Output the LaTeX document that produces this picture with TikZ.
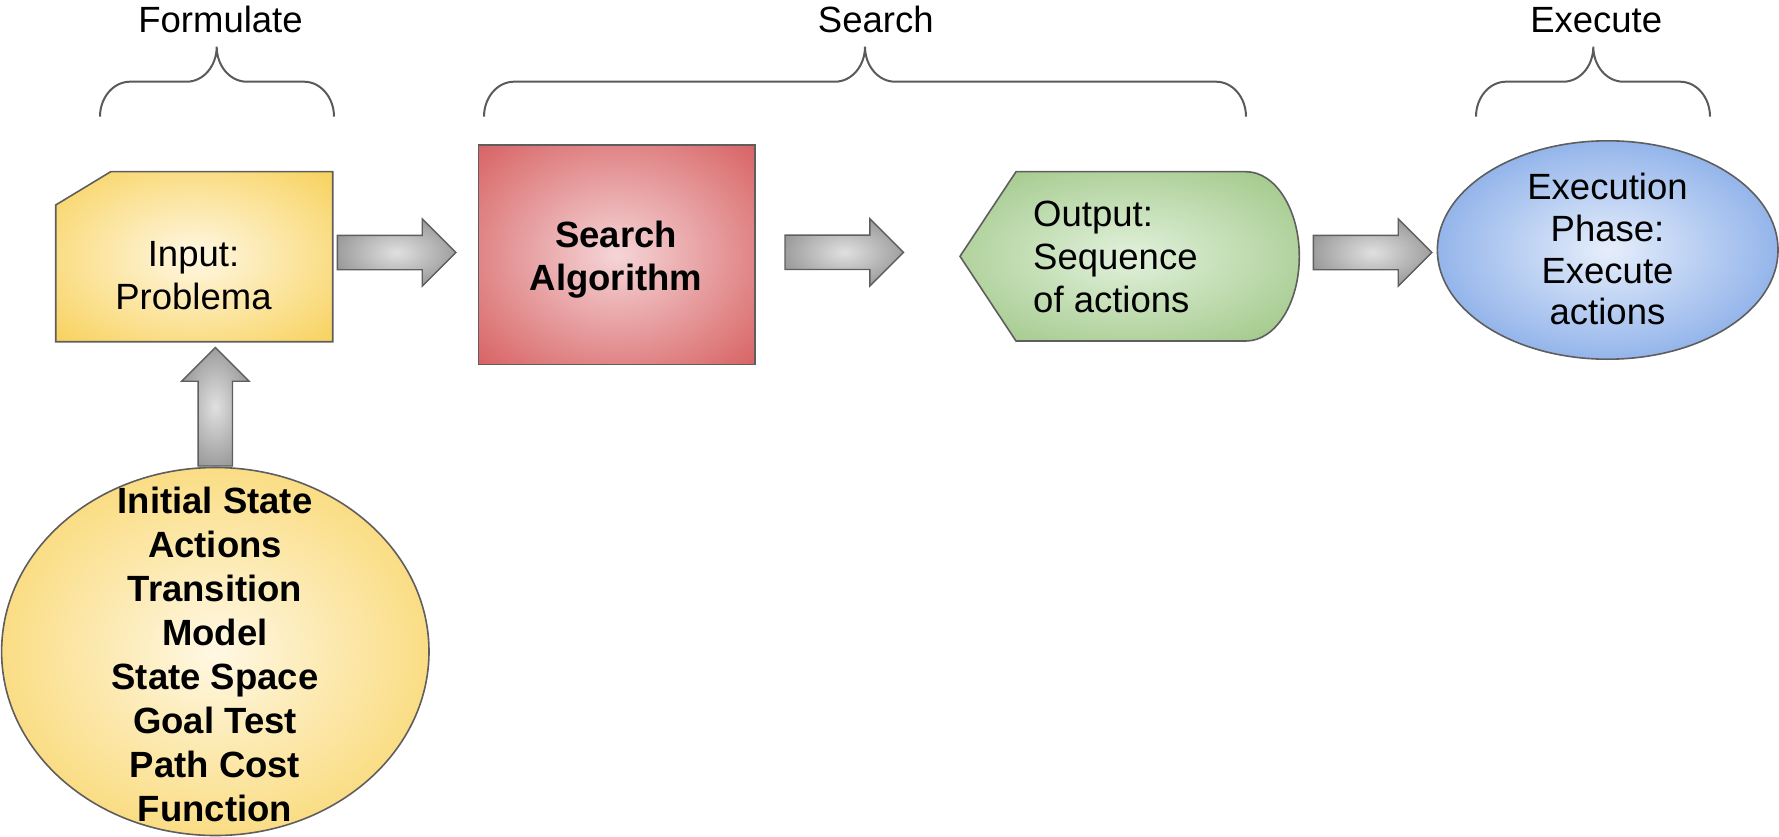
\documentclass[tikz,border=0pt]{standalone}
\usepackage{fontspec}
\setmainfont{Liberation Sans}
\usetikzlibrary{shapes.geometric,shapes.arrows}

\definecolor{edgegray}{HTML}{5E5E5E}
\definecolor{bracegray}{HTML}{5A5A5A}
\definecolor{yellowdark}{HTML}{F8D25E}
\definecolor{yellowlight}{HTML}{FFF8E4}
\definecolor{reddark}{HTML}{D86465}
\definecolor{redlight}{HTML}{F5D5D7}
\definecolor{greendark}{HTML}{9DC684}
\definecolor{greenlight}{HTML}{E2F1DC}
\definecolor{bluedark}{HTML}{739EE4}
\definecolor{bluelight}{HTML}{E6EEFB}
\definecolor{arrowdark}{HTML}{848484}
\definecolor{arrowlight}{HTML}{E0E0E0}

% soft radial fills: light centre, full colour only towards the corners
\pgfdeclareradialshading{glowyellow}{\pgfpoint{0bp}{0bp}}{color(0bp)=(yellowlight); color(35bp)=(yellowdark); color(60bp)=(yellowdark)}
\pgfdeclareradialshading{glowred}{\pgfpoint{0bp}{0bp}}{color(0bp)=(redlight); color(35bp)=(reddark); color(60bp)=(reddark)}
\pgfdeclareradialshading{glowgreen}{\pgfpoint{0bp}{0bp}}{color(0bp)=(greenlight); color(35bp)=(greendark); color(60bp)=(greendark)}
\pgfdeclareradialshading{glowblue}{\pgfpoint{0bp}{0bp}}{color(0bp)=(bluelight); color(35bp)=(bluedark); color(60bp)=(bluedark)}
\pgfdeclareradialshading{glowgray}{\pgfpoint{0bp}{0bp}}{color(0bp)=(arrowlight); color(35bp)=(arrowdark); color(60bp)=(arrowdark)}

% curly brace over a phase: left end, tip, right end (x values)
\newcommand\phasebrace[3]{%
  \draw[brace] (#1,116.7) .. controls (#1,97.4) and (#1+13.4,81.7) .. (#1+30,81.7)
    -- (#2-30,81.7) .. controls (#2-13.4,81.7) and (#2,66) .. (#2,46.7)
    .. controls (#2,66) and (#2+13.4,81.7) .. (#2+30,81.7)
    -- (#3-30,81.7) .. controls (#3-13.4,81.7) and (#3,97.4) .. (#3,116.7);}

\begin{document}
\begin{tikzpicture}[x=1pt,y=-1pt,
  outline/.style={draw=edgegray, line width=1.6pt},
  brace/.style={draw=bracegray, line width=2pt},
  txt/.style={font=\fontsize{36.5}{43}\selectfont, inner sep=0pt, align=center, text=black},
  boldtxt/.style={txt, font=\fontsize{36.5}{43}\selectfont\bfseries},
  glow/.style={shade, shading=#1},
  blockarrow/.style={single arrow, outline, line width=1.4pt, glow=glowgray,
    minimum height=118.5pt, inner xsep=0pt, inner ysep=16.5pt,
    single arrow head extend=16.5pt, single arrow tip angle=90,
    anchor=tail}
]
\useasboundingbox (0,0) rectangle (1779,837);

% phase headings and their braces
\node[txt, anchor=base] (hform) at (220.5,32.3) {Formulate};
\node[txt, anchor=base] (hsearch) at (875.8,32.3) {Search};
\node[txt, anchor=base] (hexec) at (1596.2,32.3) {Execute};
\phasebrace{100}{216.7}{334}
\phasebrace{484}{865}{1246}
\phasebrace{1476}{1593.3}{1710}

% input card with the cut top-left corner
\draw[outline, glow=glowyellow]
  (55.7,205) -- (110.7,171.7) -- (332.7,171.7) -- (332.7,341.7) -- (55.7,341.7) -- cycle;
\node[txt, font=\fontsize{36.5}{43.3}\selectfont] (inputtxt) at (193.5,275.5) {Input:\\Problema};

% search algorithm box
\node[rectangle, outline, glow=glowred, minimum width=276.7pt,
  minimum height=219.3pt, inner sep=0pt] (searchbox) at (616.7,254.7) {};
\node[boldtxt, font=\fontsize{36.5}{42.7}\selectfont\bfseries] (searchtxt) at (616,259.4) {Search\\Algorithm};

% output display shape
\draw[outline, glow=glowgreen]
  (960,256.3) -- (1016,171.7) -- (1246,171.7)
  arc[start angle=-90, end angle=90, x radius=53.3, y radius=84.65]
  -- (1016,341) -- cycle;
\node[txt, align=left, anchor=west] (outtxt) at (1033,256.6) {Output:\\Sequence\\of actions};

% execution phase ellipse
\node[ellipse, outline, glow=glowblue, minimum width=340.7pt,
  minimum height=218.4pt, inner sep=0pt] (execell) at (1607.7,250) {};
\node[txt, font=\fontsize{36.5}{41.9}\selectfont] (exectxt) at (1607.5,249.1) {Execution\\Phase:\\Execute\\actions};

% problem components ellipse
\node[ellipse, outline, glow=glowyellow, minimum width=427.4pt,
  minimum height=368pt, inner sep=0pt] (probell) at (215.3,651.5) {};
\node[boldtxt, font=\fontsize{36.5}{44}\selectfont\bfseries] (probtxt) at (215,654.8)
  {Initial State\\Actions\\Transition\\Model\\State Space\\Goal Test\\Path Cost\\Function};

% block arrows between the stages
\node[blockarrow] (a1) at (336.7,252.5) {};
\node[blockarrow] (a2) at (784.3,252.3) {};
\node[blockarrow] (a3) at (1312.7,252.5) {};
\node[blockarrow, rotate=90] (aup) at (probell.north) {};
\end{tikzpicture}
\end{document}
